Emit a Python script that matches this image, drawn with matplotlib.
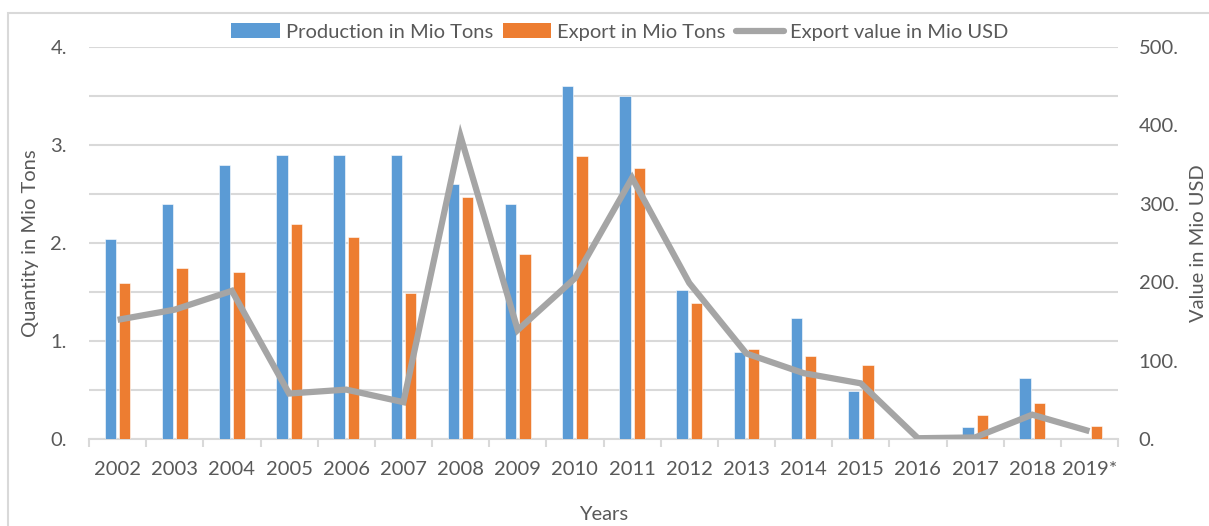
import numpy as np
import matplotlib.pyplot as plt
from matplotlib.patches import Rectangle, Patch
from matplotlib.lines import Line2D

plt.rcParams['font.family'] = ['Lato', 'DejaVu Sans']

years = ['2002', '2003', '2004', '2005', '2006', '2007', '2008', '2009', '2010',
         '2011', '2012', '2013', '2014', '2015', '2016', '2017', '2018', '2019*']
production = [2.04, 2.40, 2.80, 2.90, 2.90, 2.90, 2.60, 2.40, 3.60,
              3.50, 1.52, 0.89, 1.23, 0.49, 0.0, 0.12, 0.62, 0.0]
export_qty = [1.59, 1.75, 1.70, 2.19, 2.06, 1.49, 2.47, 1.89, 2.89,
              2.77, 1.39, 0.92, 0.85, 0.76, 0.0, 0.25, 0.37, 0.13]
export_value = [152, 165, 189, 58, 63, 47, 386, 139, 205,
                333, 199, 109, 84, 71, 1, 2, 31, 10]

blue = '#5B9BD5'
orange = '#ED7D31'
grey = '#A5A5A5'
text_col = '#595959'
grid_col = '#D9D9D9'
fs = 14.5

fig = plt.figure(figsize=(12.09, 5.26), dpi=100)
ax = fig.add_axes([89 / 1209, 87 / 526, 1029 / 1209, 392 / 526])
ax2 = ax.twinx()

x = np.arange(len(years))
w = 0.2
ax.bar(x - 0.125, production, w, color=blue, edgecolor='white', linewidth=0.4, zorder=3)
ax.bar(x + 0.125, export_qty, w, color=orange, edgecolor='white', linewidth=0.4, zorder=3)
ax2.plot(x, export_value, color=grey, lw=4.5, solid_joinstyle='miter', solid_capstyle='butt')

ax.set_xlim(-0.5, len(years) - 0.5)
ax.set_ylim(0, 4)
ax2.set_ylim(0, 500)

ax.set_yticks(np.arange(0, 5, 1))
ax.set_yticklabels([f'{v}.' for v in range(5)])
ax.set_yticks(np.arange(0.5, 4, 1), minor=True)
ax.grid(axis='y', which='both', color=grid_col, lw=1.5, zorder=0)
ax2.set_yticks(np.arange(0, 600, 100))
ax2.set_yticklabels([f'{v}.' for v in range(0, 600, 100)])

ax.set_xticks(x)
ax.set_xticklabels(years)
ax.set_xticks(np.arange(-0.5, len(years), 1), minor=True)

for a in (ax, ax2):
    for s in a.spines.values():
        s.set_visible(False)
ax.spines['bottom'].set_visible(True)
ax.spines['bottom'].set_color(grid_col)
ax.spines['bottom'].set_linewidth(1.5)

ax.tick_params(axis='x', which='major', length=0, pad=16, labelsize=fs, labelcolor=text_col)
ax.tick_params(axis='x', which='minor', length=6, width=1.5, color=grid_col)
ax.tick_params(axis='y', which='both', length=0, pad=16, labelsize=fs, labelcolor=text_col)
ax2.tick_params(axis='y', length=0, pad=15, labelsize=fs, labelcolor=text_col)

ax.set_xlabel('Years', fontsize=fs, color=text_col, labelpad=20)
ax.set_ylabel('Quantity in Mio Tons', fontsize=fs, color=text_col, labelpad=8)
ax2.set_ylabel('Value in Mio USD', fontsize=fs, color=text_col, labelpad=8)

handles = [Patch(facecolor=blue), Patch(facecolor=orange),
           Line2D([0], [0], color=grey, lw=4.5, solid_capstyle='round')]
labels = ['Production in Mio Tons', 'Export in Mio Tons', 'Export value in Mio USD']
fig.legend(handles, labels, loc='center', bbox_to_anchor=(620 / 1209, 1 - 32 / 526),
           ncol=3, frameon=False, fontsize=fs, labelcolor=text_col,
           handlelength=2.4, handletextpad=0.3, columnspacing=0.5)

fig.patches.append(Rectangle((8 / 1209, -0.05), 1.1, 0.05 + (526 - 13) / 526,
                             transform=fig.transFigure, fill=False,
                             edgecolor=grid_col, lw=1.5))

fig.savefig('out.png', dpi=100)
